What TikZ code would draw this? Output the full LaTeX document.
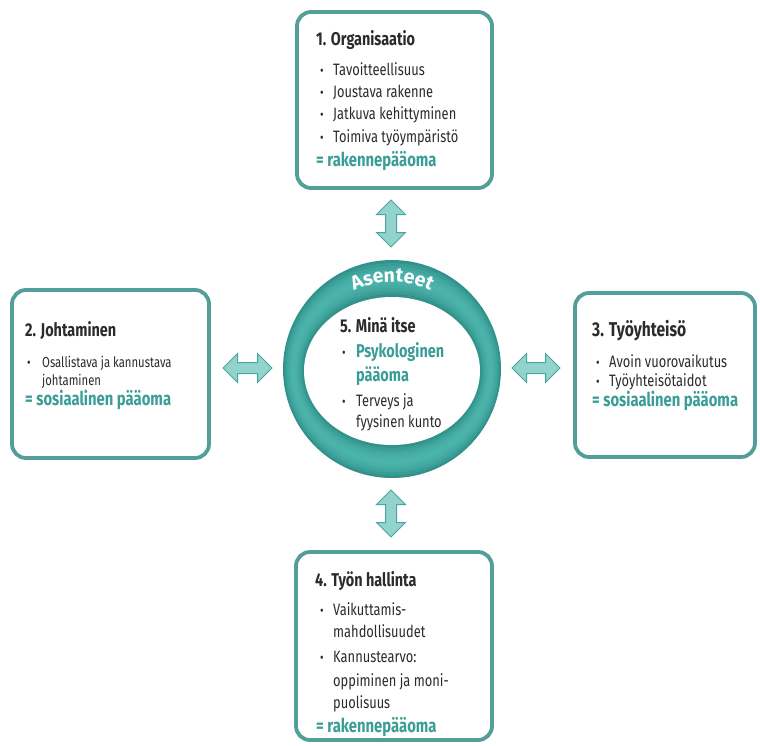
\documentclass[tikz,border=0pt]{standalone}
\usepackage{fontspec}
\setmainfont{Fira Sans}[FakeStretch=0.78]
\newfontfamily\ringfont{Fira Sans}[FakeStretch=1.0]
\usetikzlibrary{shapes.arrows}
\definecolor{boxteal}{HTML}{519F98}
\definecolor{ringlight}{HTML}{4AB3AA}
\definecolor{ringdark}{HTML}{2D8C85}
\definecolor{arrfill}{HTML}{92D3CD}
\definecolor{arrline}{HTML}{4AA59E}
\definecolor{txtteal}{HTML}{3A9E97}
\definecolor{txtdark}{HTML}{2B2B2B}
\begin{document}
\begin{tikzpicture}[x=1pt,y=1pt,
  box/.style={draw=boxteal, line width=3.8pt, rounded corners=14pt, fill=white, inner sep=0pt},
  ttl/.style={anchor=base west, inner sep=0pt, text=txtdark, font=\fontsize{18.5}{18.5}\selectfont\bfseries},
  itm/.style={anchor=base west, inner sep=0pt, text=txtdark, font=\fontsize{16.5}{16.5}\selectfont},
  itmsmall/.style={itm, font=\fontsize{14.5}{14.5}\selectfont},
  bul/.style={anchor=base west, inner sep=0pt, text=txtdark, font=\fontsize{14}{14}\selectfont},
  captxt/.style={anchor=base west, inner sep=0pt, text=txtteal, font=\fontsize{19}{19}\selectfont\bfseries},
  ringchar/.style={anchor=base, inner sep=0pt, text=white, font=\ringfont\bfseries\fontsize{19.5}{19.5}\selectfont},
  dbl/.style={double arrow, draw=arrline, fill=arrfill, line width=1pt, inner sep=5pt,
    double arrow head extend=9pt, double arrow tip angle=90, minimum height=48pt}
]
\useasboundingbox (0,0) rectangle (760,-745);
% boxes
\node[box, minimum width=195pt, minimum height=176pt] (box1) at (394.5,-100) {};
\node[box, minimum width=197pt, minimum height=168pt] (box2) at (110.5,-374) {};
\node[box, minimum width=180pt, minimum height=164pt] (box3) at (665,-375) {};
\node[box, minimum width=196pt, minimum height=188pt] (box4) at (394,-646) {};
% ring (layered for a tube-like shading)
\coordinate (rc) at (392,-369);
\foreach \i in {0,...,11} {
  \pgfmathsetmacro\ta{\i/12}
  \pgfmathsetmacro\tm{(\i+0.5)/12}
  \pgfmathsetmacro\mixp{100*((2*abs(\tm-0.5))^2)}
  \fill[ringdark!\mixp!ringlight] (392,{-369-2*\ta}) ellipse[x radius={109-21*\ta}, y radius={109-35*\ta}];
}
\fill[white] (392,-371) ellipse[x radius=88, y radius=74];
% "Asenteet" along the top of the ring
\node[ringchar, rotate=22.1]  (r1) at ([shift={(112.1:87)}]rc) {A};
\node[ringchar, rotate=15.1]  (r2) at ([shift={(105.1:87)}]rc) {s};
\node[ringchar, rotate=8.7]   (r3) at ([shift={(98.7:87)}]rc) {e};
\node[ringchar, rotate=1.6]   (r4) at ([shift={(91.6:87)}]rc) {n};
\node[ringchar, rotate=-4.7]  (r5) at ([shift={(85.3:87)}]rc) {t};
\node[ringchar, rotate=-10.7] (r6) at ([shift={(79.3:87)}]rc) {e};
\node[ringchar, rotate=-17.7] (r7) at ([shift={(72.3:87)}]rc) {e};
\node[ringchar, rotate=-23.8] (r8) at ([shift={(66.2:87)}]rc) {t};
% arrows
\node[dbl, rotate=90, minimum height=47pt] (a1) at (391,-223.5) {};
\node[dbl, rotate=90, minimum height=47pt] (a4) at (391,-513.5) {};
\node[dbl, minimum height=49pt] (a2) at (247.5,-368) {};
\node[dbl, minimum height=48pt] (a3) at (536,-368) {};
% box 1
\node[ttl] (t1) at (316,-45) {1. Organisaatio};
\node[bul] (b1a) at (320,-75) {•};
\node[itm] (i1a) at (333,-75) {Tavoitteellisuus};
\node[bul] (b1b) at (320,-97) {•};
\node[itm] (i1b) at (333,-97) {Joustava rakenne};
\node[bul] (b1c) at (320,-119) {•};
\node[itm] (i1c) at (333,-119) {Jatkuva kehittyminen};
\node[bul] (b1d) at (320,-142) {•};
\node[itm] (i1d) at (333,-142) {Toimiva työympäristö};
\node[captxt] (c1) at (316,-166) {= rakennepääoma};
% box 2
\node[ttl] (t2) at (25,-336) {2. Johtaminen};
\node[bul] (b2a) at (27,-367) {•};
\node[itmsmall] (i2a) at (42,-367) {Osallistava ja kannustava};
\node[itmsmall] (i2b) at (42,-385) {johtaminen};
\node[captxt] (c2) at (25,-405) {= sosiaalinen pääoma};
% box 3
\node[ttl, font=\fontsize{20}{20}\selectfont\bfseries] (t3) at (592,-336) {3. Työyhteisö};
\node[bul] (b3a) at (596,-367) {•};
\node[itm] (i3a) at (609,-367) {Avoin vuorovaikutus};
\node[bul] (b3b) at (596,-386) {•};
\node[itm] (i3b) at (609,-386) {Työyhteisötaidot};
\node[captxt] (c3) at (592,-406) {= sosiaalinen pääoma};
% box 4
\node[ttl] (t4) at (315,-586) {4. Työn hallinta};
\node[bul] (b4a) at (320,-615) {•};
\node[itm] (i4a) at (333,-615) {Vaikuttamis-};
\node[itm] (i4b) at (333,-637) {mahdollisuudet};
\node[bul] (b4c) at (320,-662) {•};
\node[itm] (i4c) at (333,-662) {Kannustearvo:};
\node[itm] (i4d) at (333,-686) {oppiminen ja moni-};
\node[itm] (i4e) at (333,-708) {puolisuus};
\node[captxt] (c4) at (316,-732) {= rakennepääoma};
% centre
\node[ttl] (t5) at (340,-332) {5. Minä itse};
\node[bul] (b5a) at (342,-357) {•};
\node[captxt, font=\fontsize{18.5}{18.5}\selectfont\bfseries] (i5a) at (356,-357) {Psykologinen};
\node[captxt, font=\fontsize{18.5}{18.5}\selectfont\bfseries] (i5b) at (356,-381) {pääoma};
\node[bul] (b5c) at (342,-406) {•};
\node[itm] (i5c) at (356,-406) {Terveys ja};
\node[itm] (i5d) at (356,-427) {fyysinen kunto};
\end{tikzpicture}
\end{document}
